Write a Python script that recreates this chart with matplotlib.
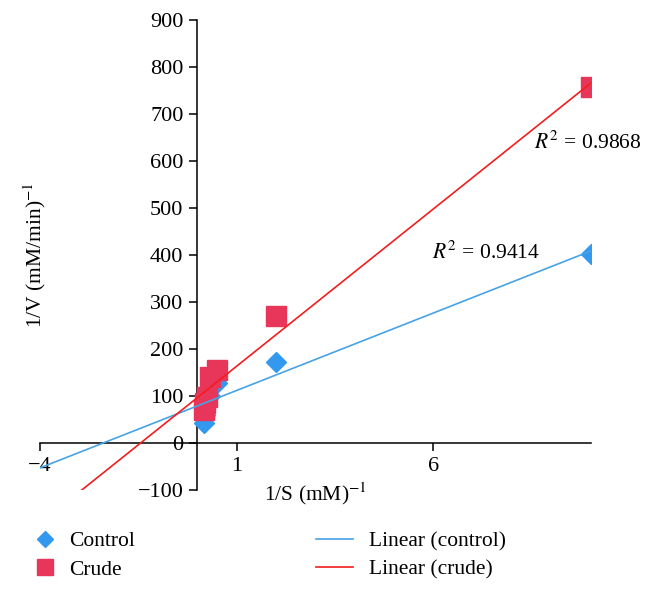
import matplotlib
matplotlib.use("Agg")
import matplotlib.pyplot as plt
import numpy as np

plt.rcParams['font.family'] = ['Liberation Serif', 'DejaVu Serif']
plt.rcParams['mathtext.fontset'] = 'stix'

# 1/S values and 1/V readings for both series
inv_s = [0.17, 0.2, 0.25, 0.33, 0.5, 2, 10]
control = [43, 60, 90, 100, 128, 172, 402]
crude = [70, 85, 97, 141, 155, 270, 757]
r2_labels = ["$R^2$ = 0.9414", "$R^2$ = 0.9868"]

fig = plt.figure(figsize=(6.51, 5.92), dpi=100)
ax = fig.add_axes([40 / 651, 1 - 490 / 592, 550.6 / 651, 470 / 592])

blue_pt = '#3399EE'
red_pt = '#E8365A'
blue_ln = '#47A3E6'
red_ln = '#F21D1D'
fs = 15.5

ax.plot(inv_s, control, 'D', color=blue_pt, ms=10, zorder=3, label='Control')
ax.plot(inv_s, crude, 's', color=red_pt, ms=14, zorder=4, label='Crude')

# least-squares trendlines, extended backwards like Excel's forecast
k1, b1 = np.polyfit(inv_s, control, 1)
k2, b2 = np.polyfit(inv_s, crude, 1)
xs1 = np.array([-4, 10])
xs2 = np.array([-3, 10])
ax.plot(xs1, k1 * xs1 + b1, color=blue_ln, lw=1.2, zorder=5, label='Linear (control)')
ax.plot(xs2, k2 * xs2 + b2, color=red_ln, lw=1.2, zorder=5, label='Linear (crude)')

ax.text(5.96, 404, r2_labels[0], fontsize=fs, va='center', ha='left')
ax.text(8.55, 638, r2_labels[1], fontsize=fs, va='center', ha='left')

ax.set_xlim(-4, 10)
ax.set_ylim(-100, 900)
ax.set_xticks([-4, 1, 6])
ax.set_yticks(range(-100, 1000, 100))
ax.spines['left'].set_position(('data', 0))
ax.spines['bottom'].set_position(('data', 0))
ax.spines['right'].set_visible(False)
ax.spines['top'].set_visible(False)
for s in ('left', 'bottom'):
    ax.spines[s].set_linewidth(1.1)
ax.tick_params(axis='both', direction='out', length=6, width=1.1, labelsize=16, pad=4)
ax.patch.set_visible(False)

ax.set_xlabel("1/S (mM)$^{-1}$", fontsize=fs)
ax.xaxis.set_label_coords(0.5, 0.02)
ax.set_ylabel("1/V (mM/min)$^{-1}$", fontsize=fs)
ax.yaxis.set_label_coords(0.015, 0.5)

h, l = ax.get_legend_handles_labels()
fig.legend(h[:2], l[:2], loc='upper left', bbox_to_anchor=(36 / 651, 1 - 531 / 592),
           frameon=False, fontsize=fs, handlelength=0.8, handletextpad=0.75,
           labelspacing=0.4, borderpad=0, borderaxespad=0, markerscale=0.85)
fig.legend(h[2:], l[2:], loc='upper left', bbox_to_anchor=(316 / 651, 1 - 531 / 592),
           frameon=False, fontsize=fs, handlelength=1.7, handletextpad=0.75,
           labelspacing=0.4, borderpad=0, borderaxespad=0)

fig.savefig('out.png', dpi=100)
